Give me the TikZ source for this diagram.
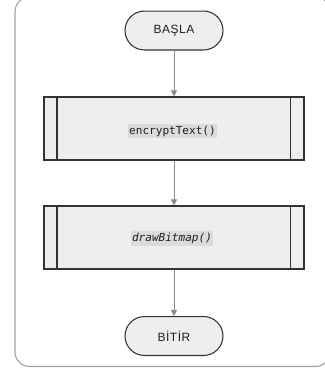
\documentclass[tikz,border=0pt]{standalone}
\usepackage{fontspec}
\setmainfont{Liberation Sans}
\setmonofont{DejaVu Sans Mono}
\usetikzlibrary{arrows.meta}
\definecolor{framegray}{HTML}{A0A0A0}
\definecolor{edgedark}{HTML}{333333}
\definecolor{boxfill}{HTML}{EEEEEE}
\definecolor{flowgray}{HTML}{8A8A8A}
\definecolor{codebg}{HTML}{DCDCDC}
\definecolor{labeltext}{HTML}{1E1E1E}
\begin{document}
\begin{tikzpicture}[x=0.75pt,y=-0.75pt,
  terminal/.style={draw=edgedark, fill=boxfill, line width=0.8pt,
    rounded corners=14.6pt, minimum width=73.5pt, minimum height=29.2pt,
    inner sep=0pt, text=labeltext,
    font=\fontsize{9pt}{10pt}\selectfont\addfontfeature{LetterSpace=4}},
  procbox/.style={draw=edgedark, fill=boxfill, line width=0.9pt,
    minimum width=195pt, minimum height=47.2pt, inner sep=0pt},
  codelabel/.style={fill=codebg, inner xsep=0.6pt, inner ysep=1.6pt,
    text=labeltext, font=\ttfamily\fontsize{8.3pt}{10pt}\selectfont},
  flow/.style={draw=flowgray, line width=0.75pt,
    -{Triangle[length=4.6pt,width=4.6pt]}}]
  \useasboundingbox (0,0) rectangle (325,372);
  % outer frame
  \draw[framegray, line width=0.8pt, rounded corners=11pt] (15,-3) rectangle (330,366.5);

  % start / end
  \node[terminal] (start) at (174,30.5) {BAŞLA};
  \node[terminal] (stop) at (174,336) {BİTİR};

  % predefined-process boxes
  \node[procbox] (enc) at (174,128.5) {};
  \draw[edgedark, line width=0.9pt] (57,97) -- (57,160) (290.5,97) -- (290.5,160);
  \node[codelabel] (enclabel) at (172.5,131) {encryptText()};

  \node[procbox] (draw) at (174,237.5) {};
  \draw[edgedark, line width=0.9pt] (57,207) -- (57,268) (290.5,207) -- (290.5,268);
  \node[codelabel, font=\ttfamily\itshape\fontsize{8.3pt}{10pt}\selectfont] (drawlabel) at (172,238.5) {drawBitmap()};

  % connectors
  \draw[flow] (start) -- (enc);
  \draw[flow] (enc) -- (draw);
  \draw[flow] (draw) -- (stop);
\end{tikzpicture}
\end{document}
